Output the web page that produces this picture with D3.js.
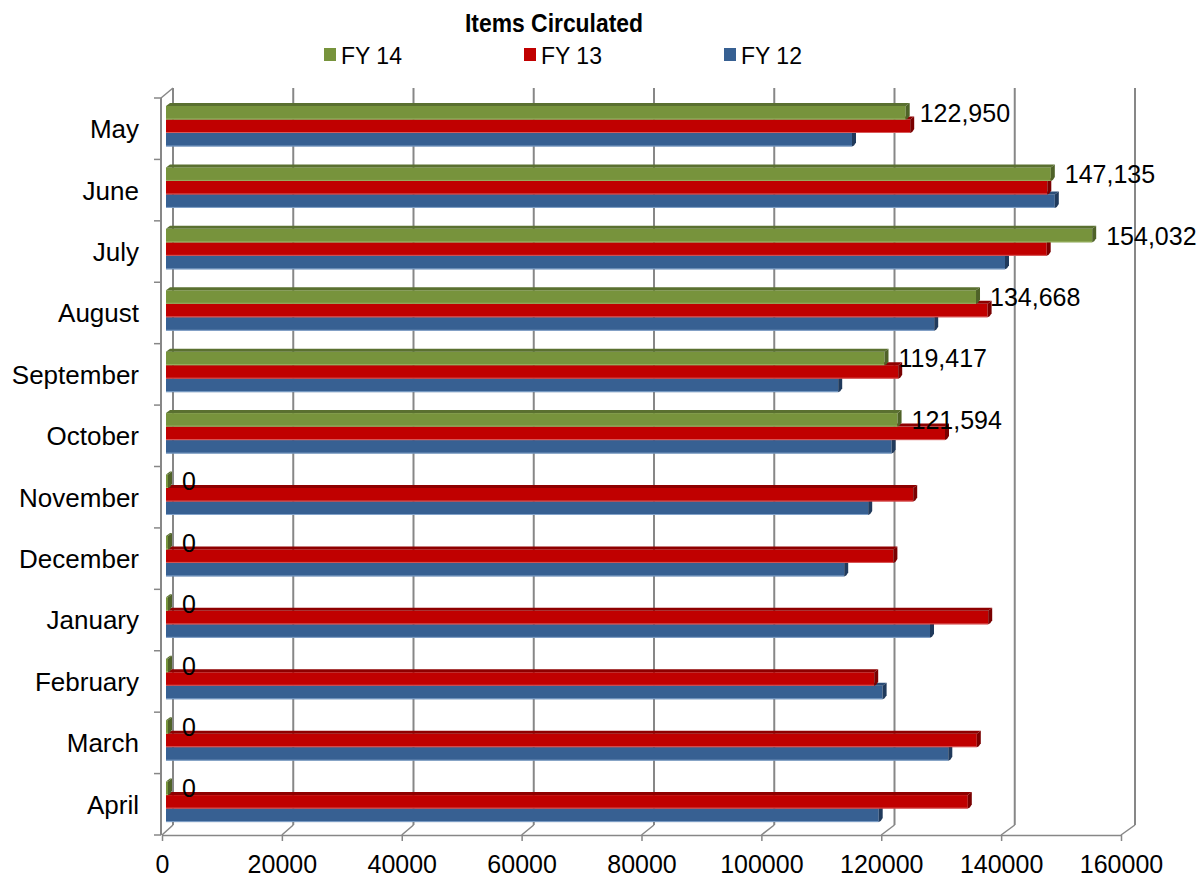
<!DOCTYPE html>
<html>
<head>
<meta charset="utf-8">
<title>Items Circulated</title>
<script src="https://cdn.jsdelivr.net/npm/d3@7"></script>
<style>
  html, body { margin: 0; padding: 0; background: #fff; }
  svg { display: block; font-family: "Liberation Sans", Arial, sans-serif; }
</style>
</head>
<body>
<svg id="chart" width="1203" height="880"></svg>
<script>
// Monthly circulation counts per fiscal year
const categories = ["May", "June", "July", "August", "September", "October",
                    "November", "December", "January", "February", "March", "April"];
const seriesNames = ["FY 14", "FY 13", "FY 12"];
const fy14 = [122950, 147135, 154032, 134668, 119417, 121594, 0, 0, 0, 0, 0, 0];
const fy13 = [123700, 146550, 146450, 136600, 121700, 129500, 124200, 120900, 136700, 117700, 134800, 133300];
const fy12 = [114000, 147800, 139500, 127700, 111700, 120600, 116700, 112700, 127000, 119100, 130050, 118450];
const tickValues = [0, 20000, 40000, 60000, 80000, 100000, 120000, 140000, 160000];

const seriesValues = { "FY 14": fy14, "FY 13": fy13, "FY 12": fy12 };
const palette = {
  "FY 14": { front: "#77933C", top: "#5A7030", side: "#4F6228", edge: "#A3BC6E" },
  "FY 13": { front: "#C00000", top: "#8E0000", side: "#7A0000", edge: "#E07070" },
  "FY 12": { front: "#376092", top: "#2B4D78", side: "#203A5C", edge: "#95B3D7" }
};

const svg = d3.select("#chart");
const gridColor = "#878787";
const depthX = 4, depthY = 3;       // bar extrusion
const floorY = 835, backFloorY = 825, backTopY = 88;

// Scales: front plane (axis), back wall (gridlines), bar plane
const xFront = d3.scaleLinear().domain([0, 160000]).range([162, 1121]);
const xBack  = d3.scaleLinear().domain([0, 160000]).range([173, 1135]);
const xBar   = d3.scaleLinear().domain([0, 160000]).range([168, 1128]);
const yBand  = d3.scaleBand().domain(categories).range([98, floorY]);
const ySeries = d3.scaleBand().domain(seriesNames).range([8, 48.5]);

// Back wall gridlines
svg.append("g").selectAll("line").data(tickValues).join("line")
  .attr("x1", d => xBack(d)).attr("x2", d => xBack(d))
  .attr("y1", backTopY).attr("y2", backFloorY)
  .attr("stroke", gridColor).attr("stroke-width", 2);

// Floor edges joining front axis ticks to the back gridlines
svg.append("g").selectAll("line").data(tickValues).join("line")
  .attr("x1", d => xFront(d)).attr("y1", floorY)
  .attr("x2", d => xBack(d)).attr("y2", backFloorY)
  .attr("stroke", gridColor).attr("stroke-width", 1.5);

// Left wall: top diagonal and front vertical axis
svg.append("line")
  .attr("x1", xFront(0) - 1).attr("y1", yBand.range()[0])
  .attr("x2", xBack(0)).attr("y2", backTopY)
  .attr("stroke", gridColor).attr("stroke-width", 1.5);
svg.append("line")
  .attr("x1", xFront(0) - 1).attr("x2", xFront(0) - 1)
  .attr("y1", yBand.range()[0]).attr("y2", floorY)
  .attr("stroke", gridColor).attr("stroke-width", 2);

// Category boundary ticks
const boundaries = categories.map(c => yBand(c)).concat([floorY]);
svg.append("g").selectAll("line").data(boundaries).join("line")
  .attr("x1", xFront(0) - 8).attr("x2", xFront(0) - 1)
  .attr("y1", d => d).attr("y2", d => d)
  .attr("stroke", gridColor).attr("stroke-width", 1.5);

// Bars, drawn lower series first so upper bars cover their top faces
const barsG = svg.append("g");
const drawOrder = ["FY 12", "FY 13", "FY 14"];
drawOrder.forEach(name => {
  const col = palette[name];
  const vals = seriesValues[name];
  categories.forEach((cat, i) => {
    const v = vals[i];
    const x0 = xBar(0) - 2;
    const x1 = xBar(v);
    const yT = yBand(cat) + ySeries(name);
    const h = ySeries.bandwidth();
    const g = barsG.append("g");
    if (x1 > x0) {
      g.append("rect").attr("x", x0).attr("y", yT).attr("width", x1 - x0).attr("height", h)
        .attr("fill", col.front);
      g.append("line").attr("x1", x0).attr("x2", x1).attr("y1", yT + h - 0.5).attr("y2", yT + h - 0.5)
        .attr("stroke", col.edge).attr("stroke-width", 1).attr("opacity", 0.8);
    }
    const xe = Math.max(x1, x0);
    // top face
    g.append("path")
      .attr("d", `M${x0},${yT} L${xe},${yT} L${xe + depthX},${yT - depthY} L${x0 + depthX},${yT - depthY} Z`)
      .attr("fill", col.top);
    // end face
    g.append("path")
      .attr("d", `M${xe},${yT} L${xe + depthX},${yT - depthY} L${xe + depthX},${yT + h - depthY - 1} L${xe + depthX - 2},${yT + h - 1} L${xe},${yT + h} Z`)
      .attr("fill", col.side);
  });
});

// Value labels for FY 14
const fmt = d3.format(",");
const labelsG = svg.append("g")
  .attr("font-size", 25).attr("fill", "#000");
categories.forEach((cat, i) => {
  const v = fy14[i];
  const t = labelsG.append("text")
    .attr("y", yBand(cat) + ySeries("FY 14") + ySeries.bandwidth() / 2)
    .attr("dominant-baseline", "central")
    .text(fmt(v));
  const w = t.node().getComputedTextLength();
  const x = Math.min(xBar(v) + 14, 1197 - w);
  t.attr("x", x);
});

// Bottom value axis
const xAxis = d3.axisBottom(xFront).tickValues(tickValues).tickFormat(d3.format("d"))
  .tickSize(6).tickPadding(14);
const xg = svg.append("g").attr("transform", `translate(0,${floorY})`).call(xAxis);
xg.select(".domain").attr("stroke", gridColor).attr("stroke-width", 1.5).attr("d", `M${xFront(0)},0.5H${xFront(160000)}`);
xg.selectAll(".tick line").attr("stroke", gridColor).attr("stroke-width", 1.5);
xg.selectAll(".tick text").attr("font-size", 25).attr("fill", "#000")
  .attr("font-family", "\"Liberation Sans\", Arial, sans-serif");

// Left category axis
const yAxis = d3.axisLeft(yBand).tickSize(0).tickPadding(22);
const yg = svg.append("g").attr("transform", `translate(${xFront(0) - 1},0)`).call(yAxis);
yg.select(".domain").remove();
yg.selectAll(".tick text").attr("font-size", 26).attr("fill", "#000")
  .attr("font-family", "\"Liberation Sans\", Arial, sans-serif")
  .attr("dy", "0.36em");

// Title
svg.append("text").attr("x", 554).attr("y", 32).attr("text-anchor", "middle")
  .attr("font-size", 25).attr("font-weight", "bold").attr("fill", "#000")
  .attr("textLength", 178).attr("lengthAdjust", "spacingAndGlyphs")
  .text("Items Circulated");

// Legend
const legendX = d3.scalePoint().domain(seriesNames).range([324, 724]);
const lg = svg.append("g").selectAll("g").data(seriesNames).join("g")
  .attr("transform", d => `translate(${legendX(d)},48)`);
lg.append("rect").attr("width", 12).attr("height", 13).attr("fill", d => palette[d].front);
lg.append("text").attr("x", 17).attr("y", 15.5).attr("font-size", 23).attr("fill", "#000").text(d => d);
</script>
</body>
</html>
